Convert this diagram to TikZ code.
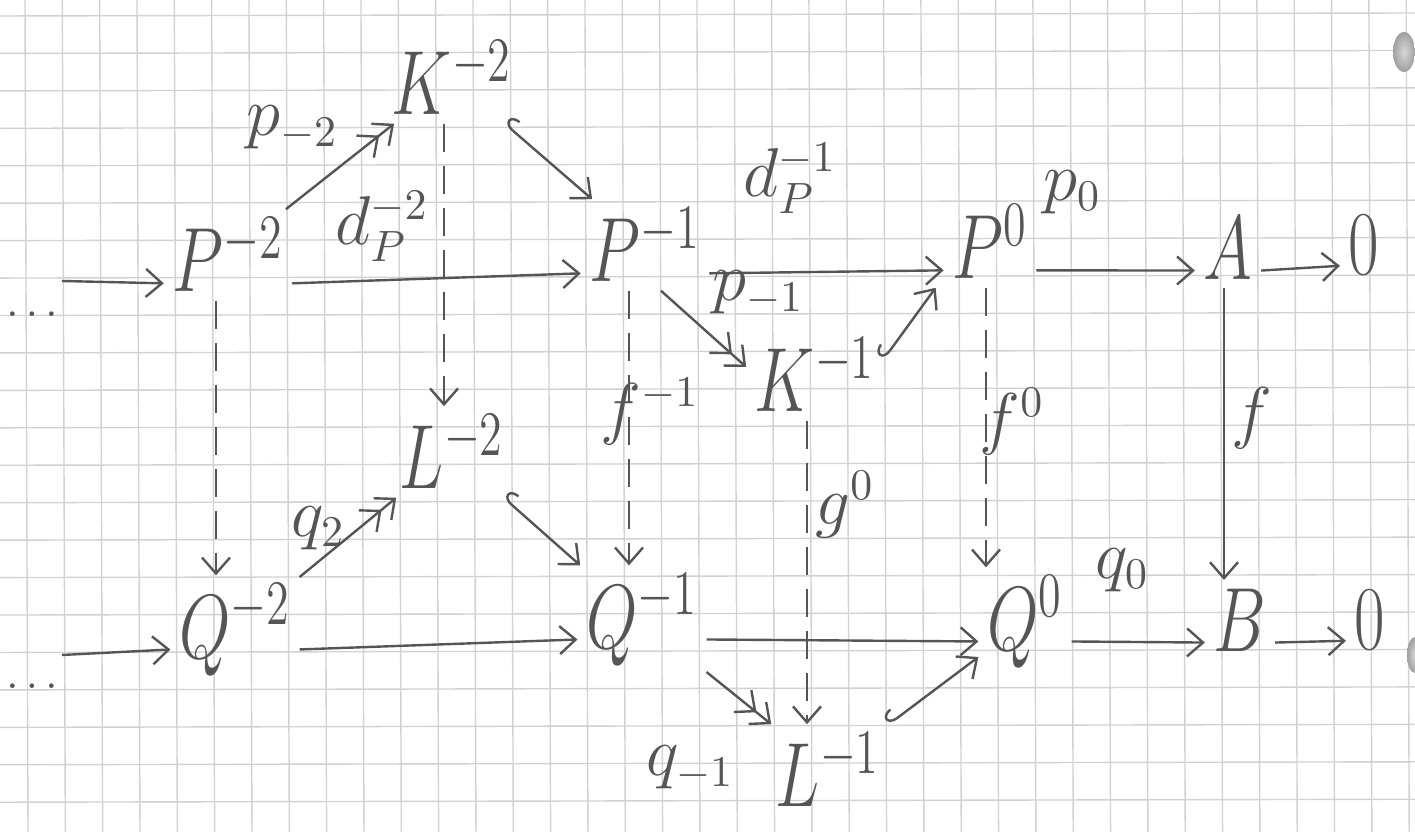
\documentclass[tikz,border=0pt]{standalone}
\usepackage{graphicx}
\usetikzlibrary{arrows.meta}
\definecolor{inkc}{HTML}{555555}
\definecolor{gridc}{HTML}{D2D2D2}
\newcommand{\nq}[1]{\scalebox{0.8}[1.1]{$#1$}}
\begin{document}
\begin{tikzpicture}[x=0.25pt,y=-0.25pt,
  ink/.style={draw=inkc, line width=0.6pt},
  obj/.style={text=inkc, font=\fontsize{21}{25}\selectfont, inner sep=2pt},
  lab/.style={text=inkc, font=\fontsize{16}{19}\selectfont, inner sep=1pt},
  dots/.style={text=inkc, font=\fontsize{11}{13}\selectfont, inner sep=1pt},
  mor/.style={ink, -{Straight Barb[length=4pt,width=7pt]}},
  epi/.style={ink, -{Straight Barb[length=4pt,width=7pt]Straight Barb[length=4pt,width=7pt]}},
  mono/.style={ink, {Hooks[right,length=2.5pt,width=6pt]}-{Straight Barb[length=4pt,width=7pt]}},
  dmor/.style={mor, dash pattern=on 7pt off 3.5pt}]
\useasboundingbox (0,0) rectangle (1415,832);
\fill[white] (0,0) rectangle (1415,832);
% grid paper
\foreach \k in {0,...,37} \draw[gridc, line width=0.35pt] ({25+37.33*\k},0) -- ({28+37.33*\k},832);
\foreach \k in {0,...,21} \draw[gridc, line width=0.35pt] (0,{16+37.44*\k}) -- (1415,{13+37.44*\k});
% punch holes
\shade[inner color=gray!30, outer color=gray!75] (1404,52) ellipse (11 and 20);
\shade[inner color=gray!30, outer color=gray!75] (1415,655) ellipse (8 and 18);

% objects, top row
\node[obj] (P2) at (228,255) {\nq{P^{-2}}};
\node[obj] (K2) at (452,78) {\nq{K^{-2}}};
\node[obj] (P1) at (645,245) {\nq{P^{-1}}};
\node[obj] (K1) at (815,375) {\nq{K^{-1}}};
\node[obj] (P0) at (990,242) {\nq{P^{0}}};
\node[obj] (A) at (1228,248) {\nq{A}};
\node[obj] (Z1) at (1364,245) {\nq{0}};
% objects, bottom row
\node[obj] (Q2) at (235,630) {\nq{Q^{-2}}};
\node[obj] (L2) at (452,452) {\nq{L^{-2}}};
\node[obj] (Q1) at (642,620) {\nq{Q^{-1}}};
\node[obj] (L1) at (828,770) {\nq{L^{-1}}};
\node[obj] (Q0) at (1025,622) {\nq{Q^{0}}};
\node[obj] (B) at (1240,620) {\nq{B}};
\node[obj] (Z2) at (1370,620) {\nq{0}};
% leading dots
\node[dots] (dt) at (32,314) {$\ldots$};
\node[dots] (db) at (32,686) {$\ldots$};
\coordinate (s1) at (62,281);
\coordinate (s2) at (62,655);

% top row arrows
\draw[mor] (s1) -- (P2.mid west);
\draw[mor] (P2.mid east) -- (P1.mid west);
\draw[mor] (P1.mid east) -- (P0.mid west);
\draw[mor] (P0.mid east) -- (A.mid west);
\draw[mor] (A.mid east) -- (Z1.mid west);
\draw[epi] (P2) -- (K2);
\draw[mono] (K2) -- (P1);
\draw[epi] ([xshift=4pt]P1.south) -- ([yshift=2pt]K1.west);
\draw[mono] ([yshift=4pt]K1.east) -- ([xshift=-2pt]P0.south west);
% bottom row arrows
\draw[mor] (s2) -- (Q2.mid west);
\draw[mor] (Q2.mid east) -- (Q1.mid west);
\draw[mor] (Q1.mid east) -- (Q0.mid west);
\draw[mor] (Q0.mid east) -- (B.mid west);
\draw[mor] (B.mid east) -- (Z2.mid west);
\draw[epi] (Q2) -- (L2);
\draw[mono] (L2) -- (Q1);
\draw[epi] (Q1) -- (L1);
\draw[mono] (L1) -- (Q0);
% vertical arrows
\draw[dmor] ([xshift=-3pt]P2.south) -- ([xshift=-3pt]P2.south |- Q2.north);
\draw[dmor] ([xshift=-2pt]K2.south) -- ([xshift=-2pt]K2.south |- L2.north);
\draw[dmor] ([xshift=-4pt]P1.south) -- ([xshift=-4pt]P1.south |- Q1.north);
\draw[dmor] ([xshift=-2pt]K1.south) -- ([xshift=-2pt]K1.south |- L1.north);
\draw[dmor] ([xshift=-1pt]P0.south) -- ([xshift=-1pt]P0.south |- Q0.north);
\draw[mor] ([xshift=-1pt]A.south) -- ([xshift=-1pt]A.south |- B.north);

% labels
\node[lab] (lp2) at (292,128) {$p_{-2}$};
\node[lab] (ld2) at (382,226) {$d_P^{-2}$};
\node[lab] (ld1) at (790,178) {$d_P^{-1}$};
\node[lab] (lp0) at (1072,192) {$p_0$};
\node[lab] (lp1) at (758,293) {$p_{-1}$};
\node[lab] (lf1) at (650,412) {$f^{-1}$};
\node[lab] (lg0) at (845,505) {$g^0$};
\node[lab] (lf0) at (1012,422) {$f^0$};
\node[lab] (lf) at (1252,418) {$f$};
\node[lab] (lq2) at (318,528) {$q_2$};
\node[lab] (lq1) at (690,768) {$q_{-1}$};
\node[lab] (lq0) at (1122,570) {$q_0$};
\end{tikzpicture}
\end{document}
